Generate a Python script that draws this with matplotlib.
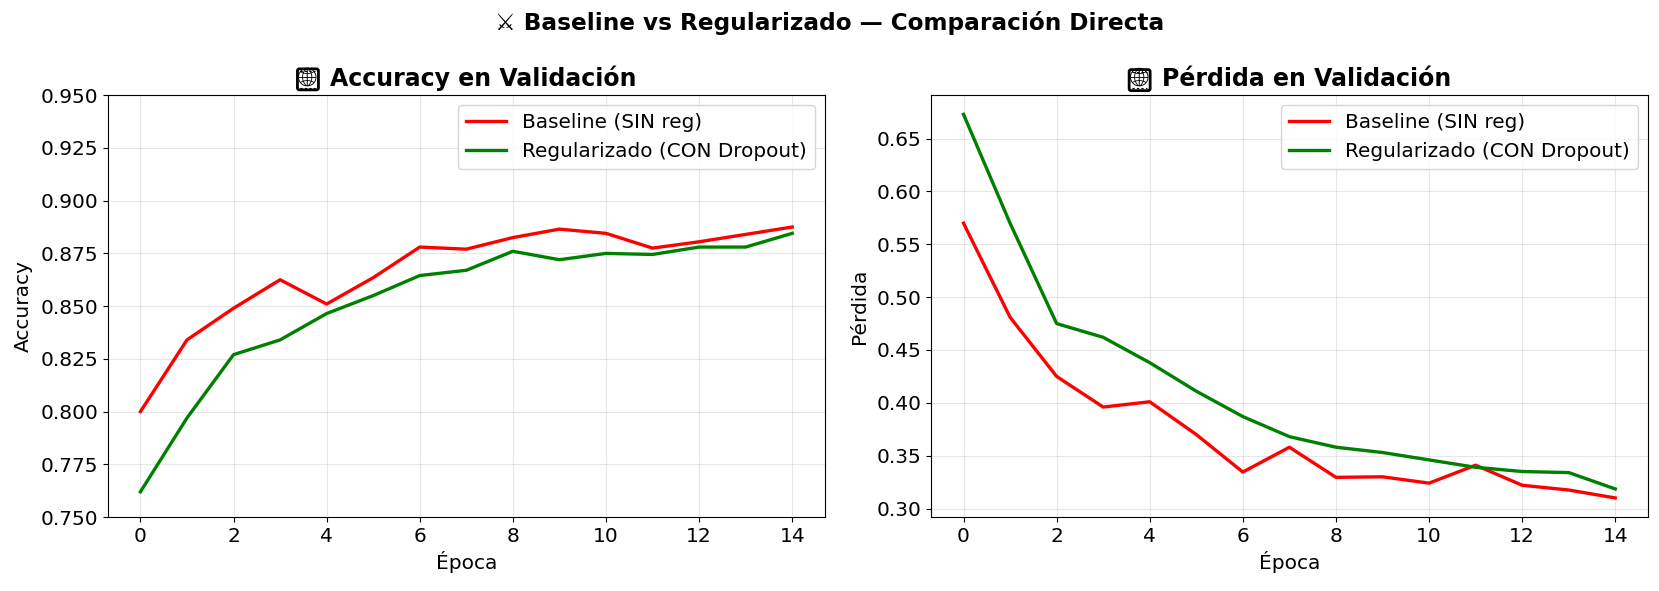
import matplotlib
matplotlib.use("Agg")
import matplotlib.pyplot as plt
from matplotlib.patches import FancyBboxPatch
from matplotlib.transforms import IdentityTransform

plt.rcParams['font.family'] = ['DejaVu Sans', 'Fira Code']

epochs = list(range(15))
acc_base = [0.800, 0.834, 0.849, 0.8625, 0.851, 0.8635, 0.878, 0.877, 0.8825, 0.8865, 0.8845, 0.8775, 0.8805, 0.884, 0.8875]
acc_reg = [0.762, 0.797, 0.827, 0.834, 0.8465, 0.855, 0.8645, 0.867, 0.876, 0.872, 0.875, 0.8745, 0.878, 0.878, 0.8845]
loss_base = [0.570, 0.481, 0.425, 0.396, 0.401, 0.370, 0.3345, 0.358, 0.3295, 0.330, 0.324, 0.341, 0.322, 0.3175, 0.310]
loss_reg = [0.673, 0.570, 0.475, 0.462, 0.438, 0.411, 0.387, 0.368, 0.358, 0.353, 0.346, 0.339, 0.335, 0.334, 0.3185]


def frame_icon(fig, title):
    # box around the globe at the start of a title
    fig.canvas.draw()
    bb = title.get_window_extent()
    size = 21
    x0 = bb.x0 - 3
    y0 = (bb.y0 + bb.y1) / 2 - size / 2 - 1
    tr = IdentityTransform()
    fig.add_artist(FancyBboxPatch((x0, y0), size, size, boxstyle="round,pad=0,rounding_size=2",
                                  fc="none", ec="black", lw=2.0, transform=tr))
    for y in (y0 + 2.2, y0 + size - 2.2):
        fig.add_artist(plt.Line2D([x0 + 3, x0 + size - 3], [y, y], color="black", lw=0.8,
                                  ls=(0, (2, 2)), transform=tr))


fig, axes = plt.subplots(1, 2, figsize=(16.59, 5.91), dpi=100)
fig.suptitle("⚔ Baseline vs Regularizado — Comparación Directa", fontsize=16.65, fontweight="bold", x=0.5, y=0.982)

ax = axes[0]
ax.plot(epochs, acc_base, color="red", lw=2.4, label="Baseline (SIN reg)")
ax.plot(epochs, acc_reg, color="green", lw=2.4, label="Regularizado (CON Dropout)")
ax.set_ylim(0.75, 0.95)
t1 = ax.set_title("\U0001F310  Accuracy en Validación", fontsize=17, fontweight="bold", x=0.504, pad=6.5)
ax.set_xlabel("Época", fontsize=14.5); ax.set_ylabel("Accuracy", fontsize=14.5, labelpad=5)
ax.tick_params(labelsize=14.5)
ax.grid(alpha=0.3); ax.legend(fontsize=14.4, loc="upper right")

ax = axes[1]
ax.plot(epochs, loss_base, color="red", lw=2.4, label="Baseline (SIN reg)")
ax.plot(epochs, loss_reg, color="green", lw=2.4, label="Regularizado (CON Dropout)")
t2 = ax.set_title("\U0001F310  Pérdida en Validación", fontsize=17, fontweight="bold", x=0.504, pad=6.5)
ax.set_xlabel("Época", fontsize=14.5); ax.set_ylabel("Pérdida", fontsize=14.5, labelpad=5)
ax.tick_params(labelsize=14.5)
ax.grid(alpha=0.3); ax.legend(fontsize=14.4, loc="upper right")

fig.subplots_adjust(left=0.065, right=0.9933, top=0.839, bottom=0.125, wspace=0.148)
frame_icon(fig, t1)
frame_icon(fig, t2)
fig.savefig("out.png", dpi=100)
